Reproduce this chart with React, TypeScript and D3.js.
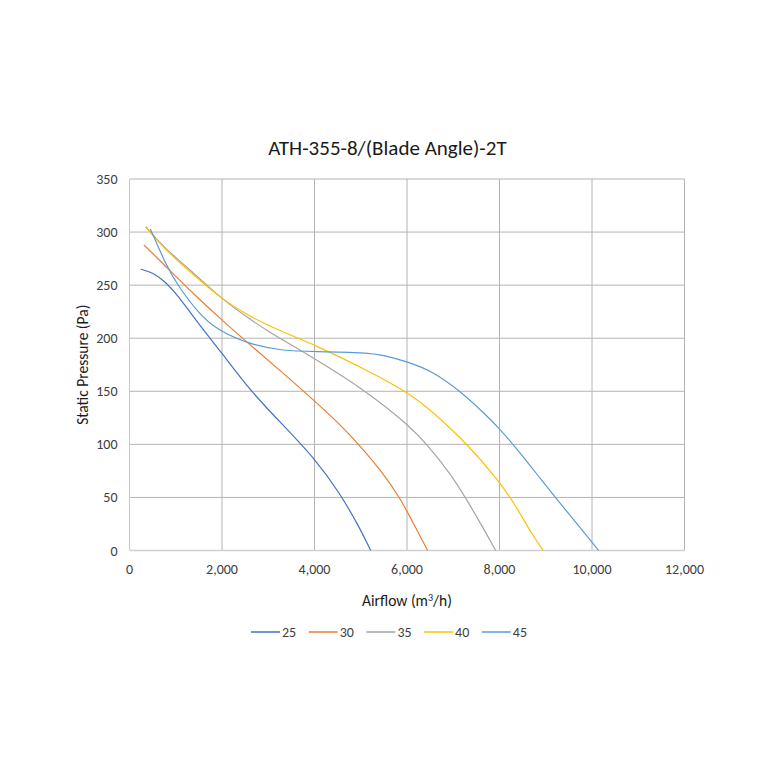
import { useEffect, useRef } from "react"
import * as d3 from "d3"

// Fan curves: airflow (m3/h) vs static pressure (Pa)
const bladeAngles = ["25", "30", "35", "40", "45"]
const colors = ["#4472C4", "#ED7D31", "#A5A5A5", "#FFC000", "#5B9BD5"]

const angle25 = [
  [240, 265], [500, 262], [750, 254], [1000, 243], [1500, 213], [2000, 186], [2600, 151],
  [3300, 119], [4000, 87], [4550, 54], [4970, 22], [5215, 0],
]
const angle30 = [
  [310, 288], [730, 270], [1450, 239], [2000, 217], [2600, 194], [3300, 168], [4000, 141],
  [4500, 121], [4980, 99], [5500, 72], [5850, 49], [6000, 37], [6447, 0],
]
const angle35 = [
  [350, 305], [730, 286], [1450, 259], [2000, 237], [2500, 221], [2970, 207], [4000, 181],
  [5130, 150], [6065, 117], [6430, 100], [6930, 73], [7290, 48], [7650, 21], [7917, 0],
]
const angle40 = [
  [350, 305], [730, 285], [1450, 257], [2000, 237], [2500, 223], [3180, 208], [4000, 194],
  [5130, 170], [6065, 148], [6570, 130], [7290, 101], [8000, 65], [8370, 41], [8730, 13], [8948, 0],
]
const angle45 = [
  [450, 303], [800, 268], [1040, 250], [1500, 223], [1885, 208], [2600, 194], [3330, 188],
  [4000, 187.5], [5130, 186.5], [5500, 184], [6000, 178], [6570, 168.5], [7150, 150],
  [7580, 133], [8000, 115], [8370, 96], [8880, 68], [9450, 37], [10000, 8], [10144, 0],
]
const seriesValues = [angle25, angle30, angle35, angle40, angle45]

const xTicks = [0, 2000, 4000, 6000, 8000, 10000, 12000]
const yTicks = [0, 50, 100, 150, 200, 250, 300, 350]

export default function App() {
  const svgRef = useRef<SVGSVGElement>(null)

  useEffect(() => {
    if (!svgRef.current) return
    d3.select(svgRef.current).selectAll("*").remove()

    const width = 760
    const height = 760
    const margin = { top: 179, right: 75.5, bottom: 209.5, left: 129.5 }
    const innerWidth = width - margin.left - margin.right
    const innerHeight = height - margin.top - margin.bottom
    const font = "Carlito, Calibri, Lato, sans-serif"

    const svg = d3.select(svgRef.current)
    svg.append("rect").attr("width", width).attr("height", height).attr("fill", "#ffffff")

    const g = svg.append("g").attr("transform", `translate(${margin.left},${margin.top})`)

    const xScale = d3.scaleLinear().domain([0, 12000]).range([0, innerWidth])
    const yScale = d3.scaleLinear().domain([0, 350]).range([innerHeight, 0])

    // grid
    g.selectAll(".grid-x")
      .data(xTicks.slice(1))
      .join("line")
      .attr("x1", (d) => xScale(d))
      .attr("x2", (d) => xScale(d))
      .attr("y1", 0)
      .attr("y2", innerHeight)
      .attr("stroke", "#b4b4b4")
      .attr("stroke-width", 1)

    g.selectAll(".grid-y")
      .data(yTicks.slice(1))
      .join("line")
      .attr("x1", 0)
      .attr("x2", innerWidth)
      .attr("y1", (d) => yScale(d))
      .attr("y2", (d) => yScale(d))
      .attr("stroke", "#b4b4b4")
      .attr("stroke-width", 1)

    // axis lines
    g.append("line")
      .attr("x1", 0).attr("x2", 0).attr("y1", 0).attr("y2", innerHeight)
      .attr("stroke", "#c8c8c8")
    g.append("line")
      .attr("x1", 0).attr("x2", innerWidth).attr("y1", innerHeight).attr("y2", innerHeight)
      .attr("stroke", "#d0d0d0").attr("stroke-width", 1.5)

    // tick labels
    g.selectAll(".x-tick")
      .data(xTicks)
      .join("text")
      .attr("x", (d) => xScale(d))
      .attr("y", innerHeight + 23.5)
      .attr("text-anchor", "middle")
      .attr("font-family", font)
      .attr("font-size", "14px")
      .attr("fill", "#404040")
      .text((d) => d3.format(",")(d))

    g.selectAll(".y-tick")
      .data(yTicks)
      .join("text")
      .attr("x", -12)
      .attr("y", (d) => yScale(d) + 5)
      .attr("text-anchor", "end")
      .attr("font-family", font)
      .attr("font-size", "14px")
      .attr("fill", "#404040")
      .text((d) => d)

    // curves (B-spline to get the smooth look of the original)
    const line = d3
      .line<number[]>()
      .x((d) => xScale(d[0]))
      .y((d) => yScale(d[1]))
      .curve(d3.curveBasis)

    seriesValues.forEach((values, i) => {
      g.append("path")
        .datum(values)
        .attr("d", line)
        .attr("fill", "none")
        .attr("stroke", colors[i])
        .attr("stroke-width", 1.2)
    })

    // title and axis labels
    svg.append("text")
      .attr("x", 387.5)
      .attr("y", 155)
      .attr("text-anchor", "middle")
      .attr("font-family", font)
      .attr("font-size", "21px")
      .attr("fill", "#1a1a1a")
      .text("ATH-355-8/(Blade Angle)-2T")

    svg.append("text")
      .attr("transform", `translate(88,${margin.top + innerHeight / 2}) rotate(-90)`)
      .attr("text-anchor", "middle")
      .attr("font-family", font)
      .attr("font-size", "15.5px")
      .attr("fill", "#1a1a1a")
      .text("Static Pressure (Pa)")

    const xLabel = svg.append("text")
      .attr("x", margin.left + innerWidth / 2)
      .attr("y", 606)
      .attr("text-anchor", "middle")
      .attr("font-family", font)
      .attr("font-size", "15.5px")
      .attr("fill", "#1a1a1a")
    xLabel.append("tspan").text("Airflow (m")
    xLabel.append("tspan").attr("font-size", "10px").attr("dy", -5.5).text("3")
    xLabel.append("tspan").attr("dy", 5.5).text("/h)")

    // legend
    const legend = svg.append("g").attr("transform", "translate(251,632)")
    bladeAngles.forEach((name, i) => {
      const item = legend.append("g").attr("transform", `translate(${i * 57.7},0)`)
      item.append("line")
        .attr("x1", 0).attr("x2", 29).attr("y1", 0).attr("y2", 0)
        .attr("stroke", colors[i]).attr("stroke-width", 1.5)
      item.append("text")
        .attr("x", 31)
        .attr("y", 5)
        .attr("font-family", font)
        .attr("font-size", "14px")
        .attr("fill", "#404040")
        .text(name)
    })
  }, [])

  return <svg ref={svgRef} width={760} height={760} style={{ display: "block", margin: -8 }} />
}
